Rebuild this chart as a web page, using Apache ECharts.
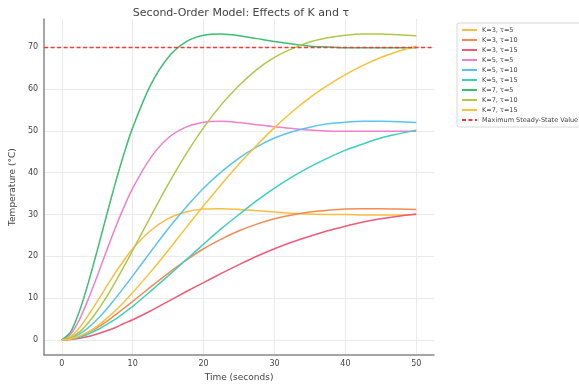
<!DOCTYPE html>
<html>
<head>
<meta charset="utf-8">
<script src="https://cdn.jsdelivr.net/npm/echarts@6/dist/echarts.min.js"></script>
<style>
  html, body { margin: 0; padding: 0; background: #fff; }
  #chart { width: 579px; height: 387px; }
</style>
</head>
<body>
<div id="chart"></div>
<script>
// time samples (s)
const time = [0, 1.25, 2.5, 3.75, 5, 6.25, 7.5, 8.75, 10, 12.5, 15, 17.5, 20, 22.5, 25, 27.5, 30, 32.5, 35, 37.5, 40, 42.5, 45, 47.5, 50];

// temperature (°C)
const k3t5 = [0, 0.8, 2.9, 5.9, 9.2, 12.6, 15.9, 19.0, 21.8, 26.1, 29.0, 30.6, 31.3, 31.4, 31.2, 30.9, 30.6, 30.3, 30.1, 30.0, 30.0, 29.9, 29.9, 29.9, 30.0];
const k3t10 = [0, 0.2, 0.8, 1.8, 2.9, 4.3, 5.9, 7.5, 9.2, 12.6, 15.9, 19.0, 21.8, 24.1, 26.1, 27.7, 29.0, 29.9, 30.6, 31.0, 31.3, 31.4, 31.4, 31.3, 31.2];
const k3t15 = [0, 0.1, 0.4, 0.8, 1.4, 2.1, 2.9, 3.9, 4.8, 6.9, 9.2, 11.5, 13.7, 15.9, 18.0, 20.0, 21.8, 23.4, 24.8, 26.1, 27.2, 28.2, 29.0, 29.6, 30.1];
const k5t5 = [0, 1.4, 4.9, 9.8, 15.3, 21.0, 26.6, 31.7, 36.3, 43.5, 48.3, 50.9, 52.1, 52.3, 52.0, 51.5, 51.0, 50.6, 50.2, 50.0, 49.9, 49.9, 49.9, 49.9, 49.9];
const k5t10 = [0, 0.4, 1.4, 2.9, 4.9, 7.2, 9.8, 12.5, 15.3, 21.0, 26.6, 31.7, 36.3, 40.2, 43.5, 46.2, 48.3, 49.8, 50.9, 51.7, 52.1, 52.3, 52.3, 52.2, 52.0];
const k5t15 = [0, 0.2, 0.6, 1.4, 2.4, 3.6, 4.9, 6.4, 8.0, 11.6, 15.3, 19.1, 22.9, 26.6, 30.0, 33.3, 36.3, 39.0, 41.4, 43.5, 45.4, 46.9, 48.3, 49.3, 50.2];
const k7t5 = [0, 1.9, 6.9, 13.7, 21.4, 29.4, 37.2, 44.4, 50.8, 60.9, 67.6, 71.3, 72.9, 73.2, 72.8, 72.1, 71.4, 70.8, 70.3, 70.1, 69.9, 69.9, 69.9, 69.9, 69.9];
const k7t10 = [0, 0.5, 1.9, 4.1, 6.9, 10.1, 13.7, 17.5, 21.4, 29.4, 37.2, 44.4, 50.8, 56.3, 60.9, 64.7, 67.6, 69.7, 71.3, 72.3, 72.9, 73.2, 73.2, 73.0, 72.8];
const k7t15 = [0, 0.2, 0.9, 1.9, 3.3, 5.0, 6.9, 9.0, 11.3, 16.2, 21.4, 26.8, 32.1, 37.2, 42.1, 46.6, 50.8, 54.6, 58.0, 60.9, 63.5, 65.7, 67.6, 69.1, 70.3];

const maxSteady = 70;

const names = ['K=3, τ=5', 'K=3, τ=10', 'K=3, τ=15', 'K=5, τ=5', 'K=5, τ=10', 'K=5, τ=15', 'K=7, τ=5', 'K=7, τ=10', 'K=7, τ=15'];
const curves = [k3t5, k3t10, k3t15, k5t5, k5t10, k5t15, k7t5, k7t10, k7t15];
const colors = ['#f7bd45', '#f48b55', '#f05b78', '#f07fce', '#5cc3ef', '#3fcfc0', '#3cbf72', '#aec94a', '#f6c23a'];

const xTicks = [0, 10, 20, 30, 40, 50];
const yTicks = [0, 10, 20, 30, 40, 50, 60, 70];
const xMin = -2.5, xMax = 52.5;
const yMin = -3.66, yMax = 76.8;

const font = 'DejaVu Sans';
const red = '#f23a3a';

let series = curves.map((c, i) => ({
    name: names[i],
    type: 'line',
    data: time.map((t, j) => [t, c[j]]),
    smooth: 0.3,
    symbol: 'none',
    lineStyle: { color: colors[i], width: 1.5 },
    itemStyle: { color: colors[i] },
    z: 3
}));

// horizontal reference line across the whole axis
series.push({
    name: 'Maximum Steady-State Value',
    type: 'line',
    data: [[xMin, maxSteady], [xMax, maxSteady]],
    symbol: 'none',
    silent: true,
    lineStyle: { color: red, width: 1.5, type: [4, 2.5] },
    itemStyle: { color: red },
    z: 4
});

let myChart = echarts.init(document.getElementById('chart'));
let option = {
    animation: false,
    backgroundColor: '#fff',
    title: {
        text: 'Second-Order Model: Effects of K and τ',
        left: 236,
        textAlign: 'center',
        top: 3,
        textStyle: { fontFamily: font, fontSize: 11, fontWeight: 'normal', color: '#444' }
    },
    legend: {
        orient: 'vertical',
        left: 457,
        top: 23,
        itemWidth: 15,
        itemHeight: 6,
        itemGap: 2,
        padding: [3, 4],
        backgroundColor: '#fff',
        borderColor: '#d8d8d8',
        borderWidth: 1,
        borderRadius: 2,
        itemStyle: { opacity: 0 },
        textStyle: { fontFamily: font, fontSize: 6.5, color: '#444', lineHeight: 8 },
        data: names.concat(['Maximum Steady-State Value'])
    },
    grid: { left: 38, right: 145, top: 19, bottom: 25 },
    xAxis: {
        type: 'value',
        min: xMin,
        max: xMax,
        name: 'Time (seconds)',
        nameLocation: 'middle',
        nameGap: 16,
        nameTextStyle: { fontFamily: font, fontSize: 9, color: '#444' },
        axisLine: { show: true, onZero: false, lineStyle: { color: '#888', width: 1.5 } },
        axisTick: { show: false, customValues: xTicks },
        axisLabel: { customValues: xTicks, fontFamily: font, fontSize: 8, color: '#444', margin: 5 },
        splitLine: { show: true, lineStyle: { color: '#ebebeb', width: 1 } }
    },
    yAxis: {
        type: 'value',
        min: yMin,
        max: yMax,
        name: 'Temperature (°C)',
        nameLocation: 'middle',
        nameGap: 20,
        nameTextStyle: { fontFamily: font, fontSize: 9, color: '#444' },
        axisLine: { show: true, onZero: false, lineStyle: { color: '#888', width: 1.5 } },
        axisTick: { show: false, customValues: yTicks },
        axisLabel: { customValues: yTicks, fontFamily: font, fontSize: 8, color: '#444', margin: 6 },
        splitLine: { show: true, lineStyle: { color: '#ebebeb', width: 1 } }
    },
    series: series
};
myChart.setOption(option);
</script>
</body>
</html>
